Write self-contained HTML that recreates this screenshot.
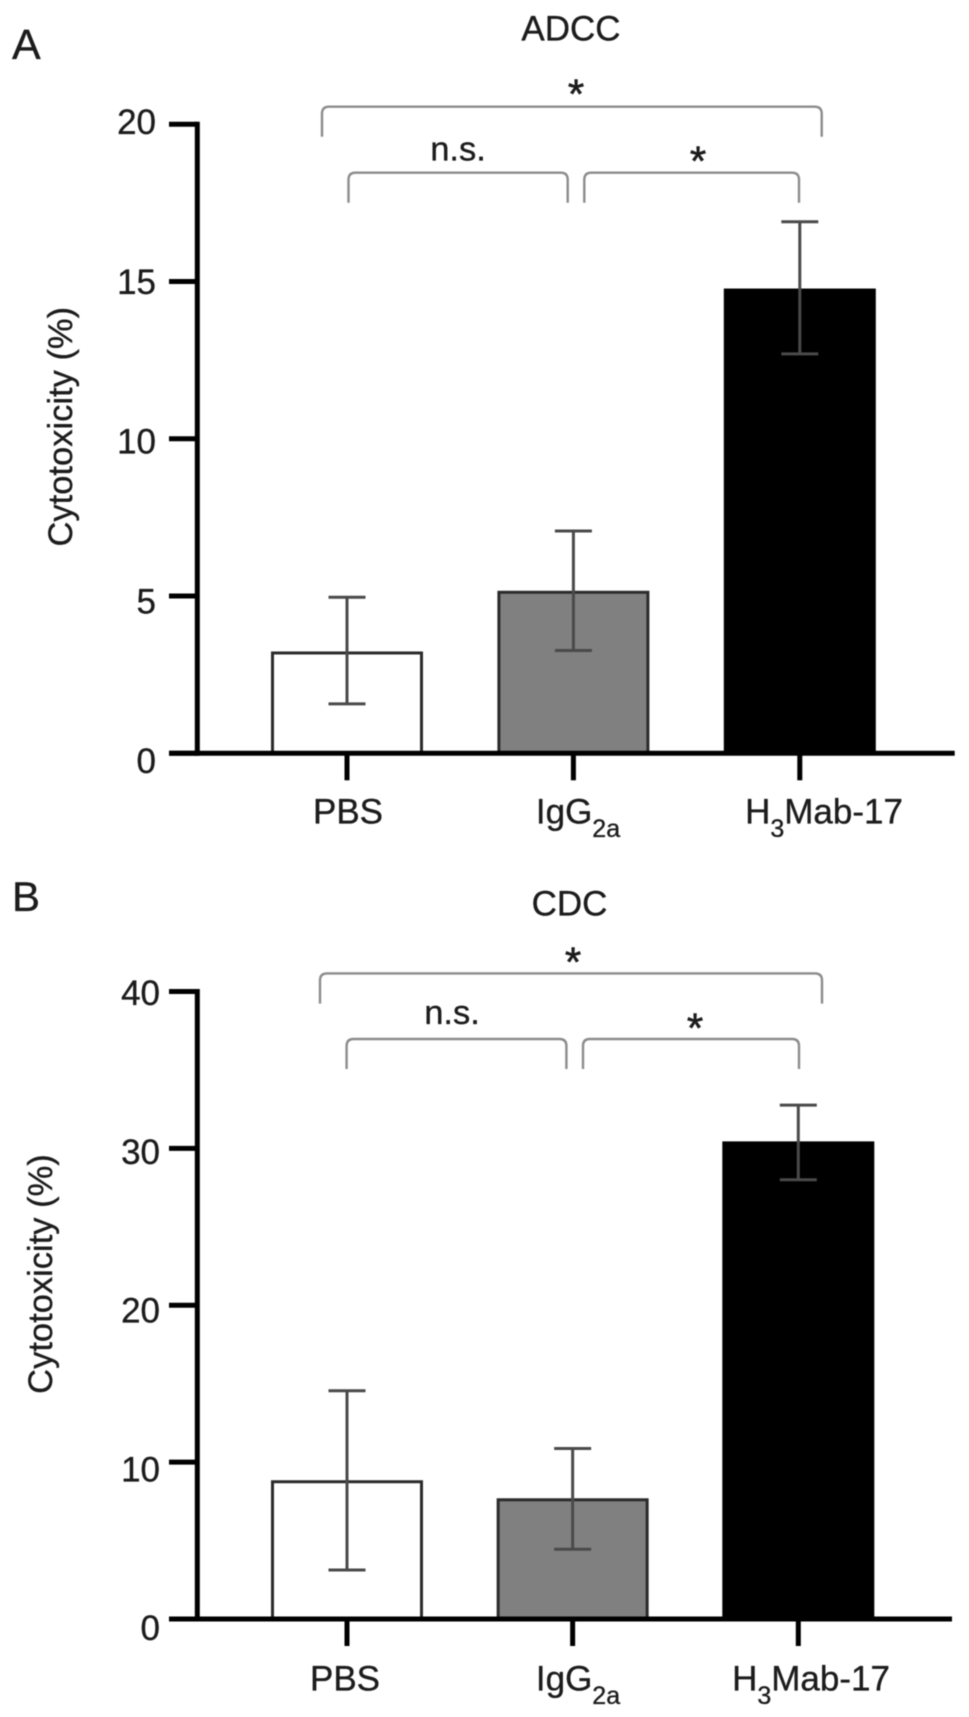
<!DOCTYPE html>
<html lang="en">
<head>
<meta charset="utf-8">
<title>ADCC and CDC cytotoxicity</title>
<style>
html,body{margin:0;padding:0;background:#fff;width:969px;height:1717px;overflow:hidden}
svg{display:block;filter:blur(0.55px)}
text{font-family:"Liberation Sans",sans-serif;fill:#1c1c1c;stroke:#1c1c1c;stroke-width:0.35px}
</style>
</head>
<body>
<svg id="figure" width="969" height="1717" viewBox="0 0 969 1717" xmlns="http://www.w3.org/2000/svg">
  <rect width="969" height="1717" fill="#fff"/>
  <text x="12" y="59" font-size="43">A</text>
  <text x="12" y="911" font-size="42">B</text>
  <text x="571" y="40.5" font-size="35" text-anchor="middle">ADCC</text>
  <text x="569.5" y="915.5" font-size="35" text-anchor="middle">CDC</text>
  <text transform="translate(72 426.7) rotate(-90)" font-size="34.5" text-anchor="middle">Cytotoxicity (%)</text>
  <text transform="translate(52 1274) rotate(-90)" font-size="34.5" text-anchor="middle">Cytotoxicity (%)</text>
  <text x="576" y="108.5" font-size="42" text-anchor="middle" style="stroke-width:.6px">*</text>
  <text x="458" y="160.5" font-size="34.5" text-anchor="middle">n.s.</text>
  <text x="698" y="175.5" font-size="42" text-anchor="middle" style="stroke-width:.6px">*</text>
  <text x="573" y="976.5" font-size="42" text-anchor="middle" style="stroke-width:.6px">*</text>
  <text x="452" y="1024" font-size="34.5" text-anchor="middle">n.s.</text>
  <text x="695" y="1042.5" font-size="42" text-anchor="middle" style="stroke-width:.6px">*</text>
  <g id="panel-a"></g>
  <g id="panel-b"></g>
</svg>
<script>
// Category labels: odd entries are normal text, even entries are subscripts.
var categoryParts = [['PBS'], ['IgG', '2a'], ['H', '3', 'Mab-17']];
var categoryKeys = ['pbs', 'igg2a', 'h3mab17'];
var barFills = ['#ffffff', '#808080', '#000000'];

var adccTicks = [0, 5, 10, 15, 20];
var adccMeans = [3.19, 5.12, 14.73];
var adccUpper = [4.96, 7.07, 16.9];
var adccLower = [1.57, 3.27, 12.7];

var cdcTicks = [0, 10, 20, 30, 40];
var cdcMeans = [8.75, 7.6, 30.35];
var cdcUpper = [14.55, 10.87, 32.76];
var cdcLower = [3.12, 4.45, 28.0];

var NS = 'http://www.w3.org/2000/svg';

function make(parent, tag, attrs) {
  var el = document.createElementNS(NS, tag);
  for (var k in attrs) { el.setAttribute(k, attrs[k]); }
  parent.appendChild(el);
  return el;
}

function drawPanel(root, cfg, ticks, means, upper, lower) {
  var yMax = ticks[ticks.length - 1];
  function y(v) { return cfg.y0 - v * (cfg.y0 - cfg.yTop) / yMax; }
  function labelY(v) { return cfg.label0 - v * (cfg.label0 - cfg.labelTop) / yMax; }
  function x(i) { return cfg.x0 + i * cfg.step; }

  // bars
  means.forEach(function (m, i) {
    var bar = make(root, 'rect', {
      x: x(i) - cfg.barHalf, y: y(m), width: cfg.barHalf * 2, height: y(0) - y(m),
      fill: barFills[i], stroke: i === 2 ? '#000' : '#2b2b2b', 'stroke-width': 3
    });
    
    
  });

  // error bars
  means.forEach(function (m, i) {
    var g = make(root, 'g', { stroke: '#4a4a4a', 'stroke-width': 3, fill: 'none' });
    
    
    make(g, 'line', { x1: x(i), x2: x(i), y1: y(upper[i]), y2: y(lower[i]) });
    make(g, 'line', { x1: x(i) - 18.5, x2: x(i) + 18.5, y1: y(upper[i]), y2: y(upper[i]) });
    make(g, 'line', { x1: x(i) - 18.5, x2: x(i) + 18.5, y1: y(lower[i]), y2: y(lower[i]) });
  });

  // axes
  var yAxis = make(root, 'line', {
    x1: cfg.axisX, x2: cfg.axisX, y1: y(yMax) - 2.5, y2: y(0) + 2.5, stroke: '#000', 'stroke-width': 5
  });
  
  
  var xAxis = make(root, 'line', {
    x1: cfg.tickLeft, x2: cfg.axisRight, y1: y(0), y2: y(0), stroke: '#000', 'stroke-width': 5
  });
  
  

  // y ticks and labels
  ticks.forEach(function (t) {
    var tick = make(root, 'line', {
      x1: cfg.tickLeft, x2: cfg.axisX, y1: y(t), y2: y(t), stroke: '#000', 'stroke-width': 5
    });
    
    
    var label = make(root, 'text', {
      x: cfg.labelRight, y: labelY(t) + 12, 'font-size': 35, 'text-anchor': 'end'
    });
    
    
    label.textContent = String(t);
  });

  // x ticks and labels
  categoryParts.forEach(function (parts, i) {
    var tick = make(root, 'line', {
      x1: x(i), x2: x(i), y1: y(0), y2: y(0) + 27, stroke: '#000', 'stroke-width': 5
    });
    
    
    var label = make(root, 'text', {
      x: cfg.catX[i], y: cfg.catBase, 'font-size': 35, 'text-anchor': 'middle'
    });
    
    
    var shift = 0;
    parts.forEach(function (part, p) {
      var isSub = p % 2 === 1;
      var dy = (isSub ? 13.5 : 0) - shift;
      shift = isSub ? 13.5 : 0;
      var span = make(label, 'tspan', { dy: dy, 'font-size': isSub ? 25 : 35 });
      span.textContent = part;
    });
  });

  // significance brackets
  cfg.brackets.forEach(function (b, i) {
    var r = 7;
    var d = 'M' + b[0] + ' ' + b[3] + 'Q' + b[0] + ' ' + (b[2] + r * 2) + ' ' + b[0] + ' ' + (b[2] + r) +
      'Q' + b[0] + ' ' + b[2] + ' ' + (b[0] + r) + ' ' + b[2] +
      'L' + (b[1] - r) + ' ' + b[2] +
      'Q' + b[1] + ' ' + b[2] + ' ' + b[1] + ' ' + (b[2] + r) +
      'Q' + b[1] + ' ' + (b[2] + r * 2) + ' ' + b[1] + ' ' + b[3];
    var path = make(root, 'path', { d: d, fill: 'none', stroke: '#8c8c8c', 'stroke-width': 2.4 });
    
    
  });
}

drawPanel(document.getElementById('panel-a'), {
  key: 'adcc', y0: 753.3, yTop: 124.3, label0: 761, labelTop: 122,
  x0: 347, step: 226.4, barHalf: 74.5, axisX: 197.3, tickLeft: 169, axisRight: 954.7, labelRight: 156,
  catX: [348, 578, 824], catBase: 823.3,
  brackets: [[322, 821.7, 106.7, 136.7], [348.5, 567.7, 172.7, 202.7], [584.3, 799, 172.7, 202.7]]
}, adccTicks, adccMeans, adccUpper, adccLower);

drawPanel(document.getElementById('panel-b'), {
  key: 'cdc', y0: 1619, yTop: 991.5, label0: 1628, labelTop: 993,
  x0: 347, step: 225.65, barHalf: 74.5, axisX: 197.3, tickLeft: 169, axisRight: 952, labelRight: 160,
  catX: [345, 578, 811], catBase: 1690.7,
  brackets: [[320, 822, 973.4, 1003.6], [346.6, 566.4, 1039, 1069], [583, 799, 1039, 1069]]
}, cdcTicks, cdcMeans, cdcUpper, cdcLower);
</script>
</body>
</html>
